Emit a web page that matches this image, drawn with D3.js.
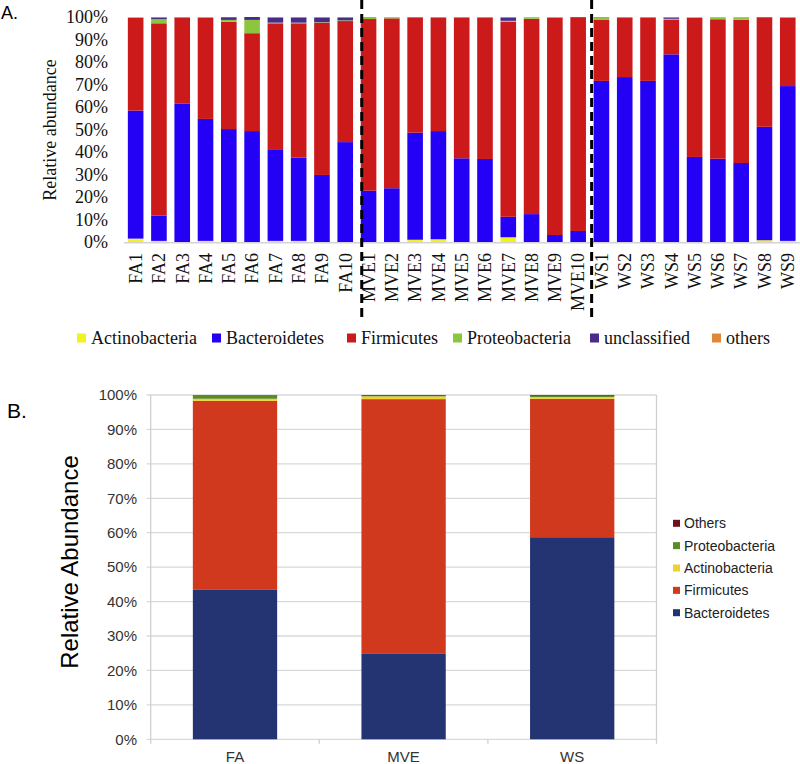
<!DOCTYPE html>
<html>
<head>
<meta charset="utf-8">
<script src="https://cdn.jsdelivr.net/npm/d3@7"></script>
<style>
  html, body { margin: 0; padding: 0; background: #fff; }
  svg { display: block; }
</style>
</head>
<body>
<svg id="chart" width="800" height="764"></svg>
<script>
// ---------- Panel A data ----------
const samples = ["FA1","FA2","FA3","FA4","FA5","FA6","FA7","FA8","FA9","FA10",
  "MVE1","MVE2","MVE3","MVE4","MVE5","MVE6","MVE7","MVE8","MVE9","MVE10",
  "WS1","WS2","WS3","WS4","WS5","WS6","WS7","WS8","WS9"];
const actinoA  = [1.5,0.5,0,0.5,0,0,0.5,0.5,0,0, 0,0,1.0,1.2,0,0,2.1,0,0,0, 0,0,0,0,0,0,0,0.8,0.5];
const bactA    = [56.9,11.2,61.6,54.2,50.2,49.3,40.4,37.0,29.8,44.4, 22.8,23.9,47.6,48.1,37.2,36.9,9.1,12.4,3.1,4.9, 71.6,73.3,71.6,83.4,37.8,37.0,35.1,50.4,68.8];
const firmA    = [41.2,85.5,38.2,45.0,47.7,43.5,56.3,59.7,67.7,53.8, 76.3,75.5,51.0,50.5,62.6,62.9,86.7,86.8,96.6,94.8, 27.1,26.5,28.2,15.3,61.8,62.0,63.7,48.4,30.4];
const proteoA  = [0.2,1.8,0,0,0.8,5.9,0.3,0.3,0.2,0.3, 0.5,0.4,0.2,0,0,0,0.4,0.6,0,0, 0.9,0,0,0.5,0.3,0.8,1.0,0,0];
const unclA    = [0,0.8,0,0,1.2,1.3,2.3,2.3,2.1,1.3, 0,0,0.2,0,0,0,1.5,0,0,0.3, 0,0,0,0.6,0,0,0,0.3,0];
const othersA  = [0.2,0.2,0.2,0.3,0.1,0,0.2,0.2,0.2,0.2, 0.4,0.2,0,0.2,0.2,0.2,0.2,0.2,0.3,0, 0.4,0.2,0.2,0.2,0.1,0.2,0.2,0.1,0.3];
const seriesA = ["Actinobacteria","Bacteroidetes","Firmicutes","Proteobacteria","unclassified","others"];
const colorsA = ["#f2f21e","#2400f5","#cc1a1a","#8cc63f","#4a2a8a","#e0883a"];
const yTicksA = [0,10,20,30,40,50,60,70,80,90,100];
const groupStartsA = ["MVE1","WS1"];

// ---------- Panel B data ----------
const groupsB = ["FA","MVE","WS"];
const bactB   = [43.4,24.8,58.7];
const firmB   = [54.9,74.0,40.2];
const actinoB = [0.6,0.8,0.5];
const proteoB = [1.0,0.2,0.4];
const othersB = [0.1,0.2,0.2];
const seriesB = ["Bacteroidetes","Firmicutes","Actinobacteria","Proteobacteria","Others"];
const colorsB = ["#243372","#d0391e","#f0d22e","#5b8c23","#6b1020"];
const legendOrderB = ["Others","Proteobacteria","Actinobacteria","Firmicutes","Bacteroidetes"];
const yTicksB = [0,10,20,30,40,50,60,70,80,90,100];

const svg = d3.select("#chart");
const SERIF = "'Liberation Serif','Times New Roman',serif";
const SANS = "'Liberation Sans',Arial,Helvetica,sans-serif";

// ================= PANEL A =================
const rowsA = samples.map((s,i) => ({
  sample: s,
  "Actinobacteria": actinoA[i], "Bacteroidetes": bactA[i], "Firmicutes": firmA[i],
  "Proteobacteria": proteoA[i], "unclassified": unclA[i], "others": othersA[i]
}));
const xA = d3.scaleBand().domain(samples).range([124, 799.4]).paddingInner(0.33).paddingOuter(0.165);
const yA = d3.scaleLinear().domain([0,100]).range([242,17]);
const colA = d3.scaleOrdinal().domain(seriesA).range(colorsA);
const stackA = d3.stack().keys(seriesA)(rowsA);

const gA = svg.append("g");
gA.selectAll("g.layer").data(stackA).join("g")
  .attr("fill", d => colA(d.key))
  .selectAll("rect").data(d => d).join("rect")
  .attr("x", d => xA(d.data.sample))
  .attr("width", xA.bandwidth())
  .attr("y", d => yA(d[1]))
  .attr("height", d => Math.max(0, yA(d[0]) - yA(d[1])));

// baseline
gA.append("line").attr("x1",124).attr("x2",800).attr("y1",yA(0)+0.8).attr("y2",yA(0)+0.8)
  .attr("stroke","#d4d4d4").attr("stroke-width",1.6);

// y tick labels
gA.selectAll("text.ytA").data(yTicksA).join("text")
  .attr("x",108).attr("y",d=>yA(d)).attr("dy","0.35em")
  .attr("text-anchor","end").attr("font-family",SERIF).attr("font-size",18).attr("fill","#111")
  .text(d=>d+"%");

// x labels
gA.selectAll("text.xlA").data(samples).join("text")
  .attr("transform", d => `translate(${xA(d)+xA.bandwidth()/2},253) rotate(-90)`)
  .attr("dy","0.35em").attr("text-anchor","end")
  .attr("font-family",SERIF).attr("font-size",18).attr("fill","#111")
  .text(d=>d);

// dashed group separators
const sepOffsets = [1, -2];
gA.selectAll("line.sep").data(groupStartsA).join("line")
  .attr("x1",(d,i)=>xA(d)+sepOffsets[i]).attr("x2",(d,i)=>xA(d)+sepOffsets[i])
  .attr("y1",0).attr("y2",318)
  .attr("stroke","#000").attr("stroke-width",3).attr("stroke-dasharray","9,5");

// y label
gA.append("text").attr("transform","translate(50,130) rotate(-90)")
  .attr("dy","0.35em").attr("text-anchor","middle")
  .attr("font-family",SERIF).attr("font-size",18).attr("fill","#111")
  .text("Relative abundance");

// panel letter
svg.append("text").attr("x",1).attr("y",19).attr("font-family",SANS).attr("font-size",18).attr("fill","#000").text("A.");

// legend A
const legXA = [77,212,347,453,590,712];
const legA = gA.selectAll("g.legA").data(seriesA).join("g")
  .attr("transform",(d,i)=>`translate(${legXA[i]},338)`);
legA.append("rect").attr("x",0).attr("y",-4.5).attr("width",9).attr("height",9).attr("fill",d=>colA(d));
legA.append("text").attr("x",14).attr("dy","0.35em").attr("font-family",SERIF).attr("font-size",18).attr("fill","#111").text(d=>d);

// ================= PANEL B =================
const rowsB = groupsB.map((g,i) => ({
  group: g, "Bacteroidetes": bactB[i], "Firmicutes": firmB[i],
  "Actinobacteria": actinoB[i], "Proteobacteria": proteoB[i], "Others": othersB[i]
}));
const xB = d3.scaleBand().domain(groupsB).range([150.7,656.5]).paddingInner(0.5).paddingOuter(0.25);
const yB = d3.scaleLinear().domain([0,100]).range([739.3,395]);
const colB = d3.scaleOrdinal().domain(seriesB).range(colorsB);
const stackB = d3.stack().keys(seriesB)(rowsB);
const gB = svg.append("g");

// gridlines
gB.selectAll("line.grid").data(yTicksB).join("line")
  .attr("x1",146.7).attr("x2",656.5).attr("y1",d=>yB(d)).attr("y2",d=>yB(d))
  .attr("stroke","#d9d9d9").attr("stroke-width",1.3);
// axis / border lines
gB.append("line").attr("x1",150.7).attr("x2",150.7).attr("y1",yB(100)).attr("y2",yB(0)+4.5).attr("stroke","#d0d0d0").attr("stroke-width",1.3);
gB.append("line").attr("x1",656.5).attr("x2",656.5).attr("y1",yB(100)).attr("y2",yB(0)+4.5).attr("stroke","#d0d0d0").attr("stroke-width",1.3);
// x ticks at band boundaries
const bounds = groupsB.slice(1).map(g => xB(g) - xB.step()*xB.paddingInner()/2);
gB.selectAll("line.xt").data(bounds).join("line")
  .attr("x1",d=>d).attr("x2",d=>d).attr("y1",yB(0)).attr("y2",yB(0)+4.5)
  .attr("stroke","#d0d0d0").attr("stroke-width",1.3);

// bars
gB.selectAll("g.layerB").data(stackB).join("g")
  .attr("fill", d => colB(d.key))
  .selectAll("rect").data(d => d).join("rect")
  .attr("x", d => xB(d.data.group))
  .attr("width", xB.bandwidth())
  .attr("y", d => yB(d[1]))
  .attr("height", d => Math.max(0, yB(d[0]) - yB(d[1])));

// y tick labels
gB.selectAll("text.ytB").data(yTicksB).join("text")
  .attr("x",137).attr("y",d=>yB(d)).attr("dy","0.35em")
  .attr("text-anchor","end").attr("font-family",SANS).attr("font-size",15).attr("fill","#333")
  .text(d=>d+"%");

// x labels
gB.selectAll("text.xlB").data(groupsB).join("text")
  .attr("x",d=>xB(d)+xB.bandwidth()/2).attr("y",757).attr("dy","0.35em")
  .attr("text-anchor","middle").attr("font-family",SANS).attr("font-size",15).attr("fill","#333")
  .text(d=>d);

// y label
gB.append("text").attr("transform","translate(70,562) rotate(-90)")
  .attr("dy","0.35em").attr("text-anchor","middle")
  .attr("font-family",SANS).attr("font-size",24).attr("fill","#000")
  .text("Relative Abundance");

// panel letter
svg.append("text").attr("x",7).attr("y",418).attr("font-family",SANS).attr("font-size",21).attr("fill","#000").text("B.");

// legend B
const legB = gB.selectAll("g.legB").data(legendOrderB).join("g")
  .attr("transform",(d,i)=>`translate(673,${523.3 + i*22.35})`);
legB.append("rect").attr("x",0).attr("y",-3.5).attr("width",7).attr("height",7).attr("fill",d=>colB(d));
legB.append("text").attr("x",11).attr("dy","0.35em").attr("font-family",SANS).attr("font-size",14).attr("fill","#222").text(d=>d);
</script>
</body>
</html>
